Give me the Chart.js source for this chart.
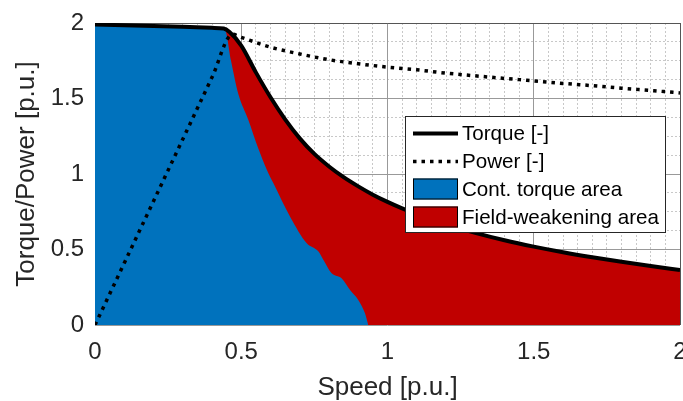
<!DOCTYPE html>
<html><head><meta charset="utf-8">
<script src="https://cdn.jsdelivr.net/npm/chart.js@4.4.0/dist/chart.umd.min.js"></script>
<style>html,body{margin:0;padding:0;background:#fff;}#wrap{width:683px;height:401px;position:relative;}</style>
</head><body><div id="wrap"><canvas id="c" width="683" height="401"></canvas></div>
<script>
// ---- data ----
const torqueSpeed = [0,0.1,0.2,0.3,0.4,0.44,0.46,0.5,0.55,0.6,0.65,0.7,0.75,0.8,0.85,0.9,0.95,1.0,1.05,1.1,1.2,1.3,1.4,1.5,1.6,1.7,1.8,1.9,2.0];
const torque      = [1.99,1.985,1.98,1.975,1.968,1.963,1.94,1.85,1.673,1.508,1.362,1.236,1.133,1.05,0.979,0.918,0.863,0.815,0.772,0.734,0.667,0.61,0.561,0.519,0.482,0.449,0.419,0.391,0.364];
const powerSpeed  = [0,0.1,0.2,0.3,0.4,0.47,0.5,0.6,0.7,0.8,0.9,1.0,1.1,1.2,1.3,1.4,1.5,1.6,1.7,1.8,1.9,2.0];
const power       = [0,0.41,0.82,1.23,1.64,1.925,1.905,1.84,1.795,1.757,1.73,1.708,1.69,1.668,1.65,1.633,1.617,1.6,1.585,1.568,1.553,1.537];
const contSpeed   = [0,0.1,0.2,0.3,0.4,0.444,0.465,0.49,0.524,0.558,0.587,0.61,0.667,0.724,0.764,0.781,0.809,0.843,0.872,0.9,0.923,0.934];
const contTorque  = [1.985,1.98,1.975,1.97,1.963,1.955,1.75,1.53,1.36,1.17,1.03,0.938,0.717,0.541,0.486,0.43,0.342,0.309,0.232,0.166,0.077,0];
const xTickLabels = ['0','0.5','1','1.5','2'];
const yTickLabels = ['0','0.5','1','1.5','2'];
const seriesLabels = ['Torque [-]','Power [-]','Cont. torque area','Field-weakening area'];

const pts = (xs, ys) => xs.map((x, i) => ({x, y: ys[i]}));
const FONT = "'Liberation Sans', Arial, sans-serif";
const TXT = '#262626';
const isMajor = v => Math.abs(v / 0.5 - Math.round(v / 0.5)) < 1e-6;

const legendPlugin = {
  id: 'boxLegend',
  afterDraw(chart) {
    const ctx = chart.ctx, ca = chart.chartArea;
    const x0 = ca.right - 274.5, y0 = ca.top + 93.5, w = 260, h = 116;
    ctx.save();
    ctx.fillStyle = '#fff';
    ctx.fillRect(x0, y0, w, h);
    ctx.strokeStyle = '#262626';
    ctx.lineWidth = 1;
    ctx.strokeRect(x0, y0, w, h);
    const ds = chart.data.datasets;
    const sx = x0 + 7.5, sw = 45;
    ds.forEach((d, i) => {
      const cy = y0 + 17 + i * 28;
      if (d.fill) {
        ctx.fillStyle = d.backgroundColor;
        ctx.fillRect(sx, cy - 11, sw, 21);
        ctx.strokeStyle = '#000';
        ctx.lineWidth = 1;
        ctx.strokeRect(sx + 0.5, cy - 10.5, sw - 1, 20);
      } else {
        ctx.strokeStyle = d.borderColor;
        ctx.lineWidth = d.borderWidth;
        ctx.setLineDash(d.borderDash || []);
        ctx.beginPath();
        ctx.moveTo(sx, cy);
        ctx.lineTo(sx + sw, cy);
        ctx.stroke();
        ctx.setLineDash([]);
      }
      ctx.fillStyle = '#000';
      ctx.font = '20.6px ' + FONT;
      ctx.textBaseline = 'middle';
      ctx.textAlign = 'left';
      ctx.fillText(d.label, sx + sw + 4, cy + 1);
    });
    ctx.restore();
  }
};

new Chart(document.getElementById('c'), {
  type: 'line',
  data: {
    datasets: [
      { label: seriesLabels[0], data: pts(torqueSpeed, torque), borderColor: '#000', borderWidth: 4,
        fill: false, pointRadius: 0, cubicInterpolationMode: 'monotone', order: 0 },
      { label: seriesLabels[1], data: pts(powerSpeed, power), borderColor: '#000', borderWidth: 3.5,
        borderDash: [3.5, 5], fill: false, pointRadius: 0, cubicInterpolationMode: 'monotone', order: 1 },
      { label: seriesLabels[2], data: pts(contSpeed, contTorque), borderWidth: 0, borderColor: 'rgba(0,0,0,0)',
        backgroundColor: '#0072BD', fill: 'origin', pointRadius: 0, cubicInterpolationMode: 'monotone', order: 2 },
      { label: seriesLabels[3], data: pts(torqueSpeed, torque), borderWidth: 0, borderColor: 'rgba(0,0,0,0)',
        backgroundColor: '#C00000', fill: 'origin', pointRadius: 0, cubicInterpolationMode: 'monotone', order: 3 }
    ]
  },
  options: {
    responsive: false, animation: false, devicePixelRatio: 1,
    layout: { padding: { top: 23, right: 3, left: 0, bottom: 0 } },
    plugins: { legend: { display: false }, tooltip: { enabled: false } },
    scales: {
      xMinor: { type: 'linear', min: 0, max: 2, position: 'bottom',
        ticks: { display: false, stepSize: 0.05 },
        grid: { drawTicks: false, color: c => isMajor(c.tick.value) ? 'rgba(0,0,0,0)' : '#c8c8c8' },
        border: { display: false, dash: [2, 2] },
        afterFit(s) { s.height = 0; s.paddingLeft = 0; s.paddingRight = 0; } },
      yMinor: { type: 'linear', min: 0, max: 2, position: 'left',
        ticks: { display: false, stepSize: 0.125 },
        grid: { drawTicks: false, color: c => isMajor(c.tick.value) ? 'rgba(0,0,0,0)' : '#c8c8c8' },
        border: { display: false, dash: [2, 2] },
        afterFit(s) { s.width = 0; s.paddingTop = 0; s.paddingBottom = 0; } },
      x: { type: 'linear', min: 0, max: 2, position: 'bottom',
        ticks: { stepSize: 0.5, padding: 13, color: TXT, font: { family: FONT, size: 24 }, maxRotation: 0,
          callback: (v) => xTickLabels[Math.round(v / 0.5)] },
        grid: { drawTicks: false, color: c => (c.tick.value === 2 ? '#555' : '#999') },
        border: { display: false },
        title: { display: true, text: 'Speed [p.u.]', color: TXT, font: { family: FONT, size: 26, lineHeight: 1 }, padding: { top: 0, bottom: 0 } },
        afterFit(s) { s.height = 76; s.paddingLeft = 0; s.paddingRight = 0; } },
      y: { type: 'linear', min: 0, max: 2, position: 'left',
        ticks: { stepSize: 0.5, padding: 11, color: TXT, font: { family: FONT, size: 24 },
          callback: (v) => yTickLabels[Math.round(v / 0.5)] },
        grid: { drawTicks: false, color: c => (c.tick.value === 2 ? '#555' : '#999') },
        border: { display: false },
        title: { display: true, text: 'Torque/Power [p.u.]', color: TXT, font: { family: FONT, size: 26, lineHeight: 1 }, padding: { top: 14, bottom: 0 } },
        afterFit(s) { s.width = 95; s.paddingTop = 0; s.paddingBottom = 0; } }
    }
  },
  plugins: [legendPlugin]
});
</script></body></html>
